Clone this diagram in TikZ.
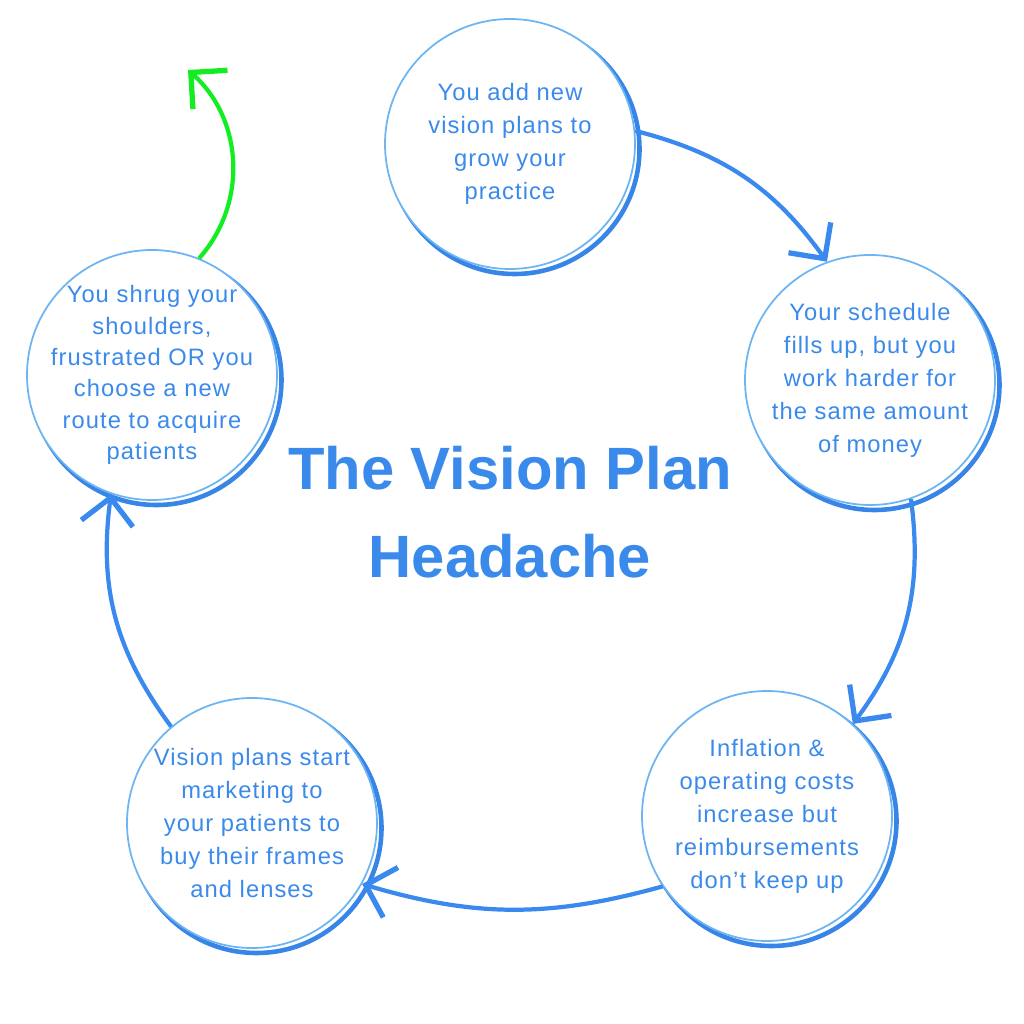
\documentclass[tikz,border=0pt]{standalone}
\usepackage{fontspec}
\setmainfont{Liberation Sans}
\newfontfamily\bodyfont{Liberation Sans}[LetterSpace=4.5]
\usepackage{tikz}
\usetikzlibrary{positioning,arrows.meta}
\definecolor{txtblue}{HTML}{3A8AEC}
\definecolor{ringblue}{HTML}{6DB5F2}
\definecolor{shadeblue}{HTML}{3785E6}
\definecolor{arrblue}{HTML}{3A89EE}
\definecolor{loopgreen}{HTML}{12EE22}
\tikzset{
  bubble/.style={circle, minimum size=5cm, inner sep=-0.3cm, fill=white,
    draw=ringblue, line width=1pt, align=center, text=txtblue,
    font=\bodyfont\fontsize{13.5}{18.8}\selectfont,
    preaction={draw=shadeblue, line width=2.6pt,
      transform canvas={xshift=0.09cm, yshift=-0.1cm}}},
  arr/.style={-{Straight Barb[length=5.2mm, width=10.4mm, line width=3pt]}, line width=2.4pt, arrblue},
  greenarr/.style={arr, loopgreen},
  heading/.style={font=\bfseries\fontsize{34}{50}\selectfont, text=txtblue, align=center},
}
\begin{document}
\begin{tikzpicture}
    \useasboundingbox (0,0) rectangle (20.48,20.48);
    \node[bubble] (add) at (10.2,17.6) {You add new\\vision plans to\\grow your\\practice};
    \node[bubble] (fill) at (17.4,12.88) {Your schedule\\fills up, but you\\work harder for\\the same amount\\of money};
    \node[bubble] (infl) at (15.34,4.16) {Inflation \&\\operating costs\\increase but\\reimbursements\\don’t keep up};
    \node[bubble] (mkt) at (5.04,4.02) {Vision plans start\\marketing to\\your patients to\\buy their frames\\and lenses};
    \node[bubble, font=\bodyfont\fontsize{13.5}{17.8}\selectfont] (shrug) at (3.04,12.98) {You shrug your\\shoulders,\\frustrated OR you\\choose a new\\route to acquire\\patients};
    \node[heading] (title) at (10.2,10.24) {The Vision Plan\\Headache};
    \coordinate (out) at (3.76,19.08);
    \draw[arr] (add.6) to[bend left=20] (fill.110);
    \draw[arr] (fill.-71) to[bend left=22] (infl.47);
    \draw[arr] (infl.-146) to[bend left=16] (mkt.-29);
    \draw[arr] (mkt.130) to[bend left=22] (shrug.-109);
    \draw[greenarr] (shrug.68) to[bend right=45] (out);
\end{tikzpicture}
\end{document}
